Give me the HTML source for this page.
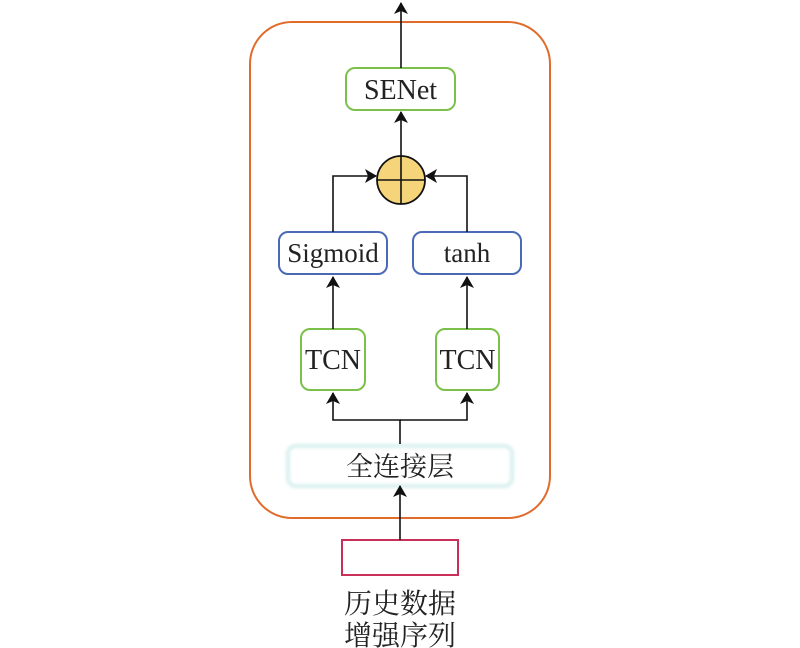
<!DOCTYPE html>
<html><head><meta charset="utf-8"><style>
html,body{margin:0;padding:0;background:#fff;}
svg{display:block;}
text{font-family:"Liberation Serif","Noto Serif CJK SC",serif;fill:#222;}
</style></head><body>
<svg width="800" height="648" viewBox="0 0 800 648" xmlns="http://www.w3.org/2000/svg">
<defs>
<marker id="a" markerWidth="12" markerHeight="14" refX="11" refY="7" orient="auto" markerUnits="userSpaceOnUse">
<path d="M0,0 L12,7 L0,14 L3,7 z" fill="#111"/>
</marker>
<filter id="blur"><feGaussianBlur stdDeviation="1.5"/></filter>
</defs>
<rect x="250" y="22" width="300" height="496" rx="42" fill="none" stroke="#e06c2c" stroke-width="2"/>
<rect x="346" y="68" width="109" height="42" rx="9" fill="#fff" stroke="#7cc04c" stroke-width="2"/>
<text x="400.5" y="99" font-size="28" text-anchor="middle">SENet</text>
<circle cx="401" cy="180" r="24" fill="#f5d47a" stroke="#111" stroke-width="1.8"/>
<line x1="377" y1="180" x2="425" y2="180" stroke="#111" stroke-width="1.6"/>
<line x1="401" y1="156" x2="401" y2="204" stroke="#111" stroke-width="1.6"/>
<rect x="279" y="232" width="108" height="42" rx="9" fill="#fff" stroke="#4a6ab8" stroke-width="2"/>
<text x="333" y="262" font-size="27" text-anchor="middle">Sigmoid</text>
<rect x="413" y="232" width="108" height="42" rx="9" fill="#fff" stroke="#4a6ab8" stroke-width="2"/>
<text x="467" y="262" font-size="27" text-anchor="middle">tanh</text>
<rect x="301" y="329" width="64" height="61" rx="9" fill="#fff" stroke="#7cc04c" stroke-width="2"/>
<text x="333" y="369" font-size="28" text-anchor="middle">TCN</text>
<rect x="436" y="329" width="63" height="61" rx="9" fill="#fff" stroke="#7cc04c" stroke-width="2"/>
<text x="467.5" y="369" font-size="28" text-anchor="middle">TCN</text>
<rect x="288" y="446" width="224" height="40" rx="8" fill="#fff" stroke="#d8f0ee" stroke-width="4" filter="url(#blur)"/>
<text x="400" y="476" font-size="27" text-anchor="middle">全连接层</text>
<rect x="342" y="540" width="116" height="35" fill="#fff" stroke="#c8305a" stroke-width="2"/>
<text x="400" y="613" font-size="28" text-anchor="middle">历史数据</text>
<text x="400" y="645" font-size="28" text-anchor="middle">增强序列</text>
<g stroke="#111" stroke-width="1.6" fill="none">
<line x1="401" y1="68" x2="401" y2="3" marker-end="url(#a)"/>
<line x1="401" y1="156" x2="401" y2="112" marker-end="url(#a)"/>
<polyline points="333,232 333,176 376,176" marker-end="url(#a)"/>
<polyline points="467,232 467,176 426,176" marker-end="url(#a)"/>
<line x1="333" y1="329" x2="333" y2="277" marker-end="url(#a)"/>
<line x1="467" y1="329" x2="467" y2="277" marker-end="url(#a)"/>
<polyline points="400,444 400,420 333,420 333,393" marker-end="url(#a)"/>
<polyline points="400,420 467,420 467,393" marker-end="url(#a)"/>
<line x1="400" y1="540" x2="400" y2="486" marker-end="url(#a)"/>
</g>
</svg>
</body></html>
